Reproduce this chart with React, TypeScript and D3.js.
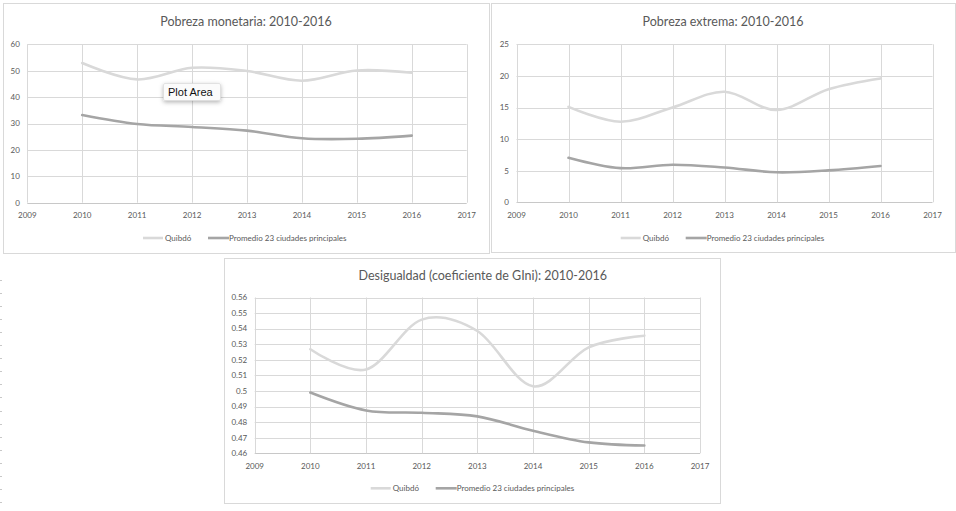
import React from "react";
import * as d3 from "d3";

const years = [2010, 2011, 2012, 2013, 2014, 2015, 2016];
const xTicks = [2009, 2010, 2011, 2012, 2013, 2014, 2015, 2016, 2017];
const seriesNames = ["Quibdó", "Promedio 23 ciudades principales"];

const monetariaQuibdo = [52.9, 46.7, 51.1, 49.9, 46.2, 50.1, 49.2];
const monetariaPromedio = [33.2, 29.8, 28.7, 27.3, 24.4, 24.2, 25.4];
const monetariaTicks = [0, 10, 20, 30, 40, 50, 60];

const extremaQuibdo = [15.1, 12.75, 15.0, 17.5, 14.6, 17.9, 19.6];
const extremaPromedio = [7.05, 5.4, 5.95, 5.5, 4.75, 5.05, 5.75];
const extremaTicks = [0, 5, 10, 15, 20, 25];

const giniQuibdo = [0.5268, 0.5138, 0.5458, 0.5385, 0.503, 0.528, 0.5355];
const giniPromedio = [0.499, 0.4875, 0.486, 0.4837, 0.4745, 0.467, 0.465];
const giniTicks = [0.46, 0.47, 0.48, 0.49, 0.5, 0.51, 0.52, 0.53, 0.54, 0.55, 0.56];
const giniTickLabels = ["0.46", "0.47", "0.48", "0.49", "0.5", "0.51", "0.52", "0.53", "0.54", "0.55", "0.56"];

const seriesColors = ["#d9d9d9", "#a5a5a5"];
const FONT = "Lato, 'Open Sans', sans-serif";
const TEXT = "#595959";
const GRID = "#d9d9d9";

type PanelProps = {
  box: { x: number; y: number; w: number; h: number };
  plot: { l: number; r: number; t: number; b: number };
  title: string;
  titleY: number;
  titleX: number;
  legendY: number;
  legendX: number;
  yTicks: number[];
  yLabels: string[];
  series: number[][];
};

function Panel({ box, plot, title, titleY, titleX, legendY, legendX, yTicks, yLabels, series }: PanelProps) {
  const x = d3.scaleLinear().domain([2009, 2017]).range([plot.l, plot.r]);
  const y = d3
    .scaleLinear()
    .domain([yTicks[0], yTicks[yTicks.length - 1]])
    .range([plot.b, plot.t]);
  const line = d3
    .line<number>()
    .x((_, i) => x(years[i]))
    .y((d) => y(d))
    .curve(d3.curveCardinal.tension(0));
  const px = (v: number) => Math.round(v) + 0.5;

  return (
    <g>
      <rect x={box.x + 0.5} y={box.y + 0.5} width={box.w} height={box.h} fill="#fff" stroke="#d9d9d9" strokeWidth={1} />
      <text x={titleX} y={titleY} textAnchor="middle" fontFamily={FONT} fontSize={12.5} fill={TEXT}>
        {title}
      </text>
      {yTicks.map((t, i) => (
        <g key={"y" + i}>
          <line x1={plot.l} x2={plot.r} y1={px(y(t))} y2={px(y(t))} stroke={i === 0 ? "#c8c8c8" : GRID} strokeWidth={1} />
          <text x={plot.l - 7.5} y={y(t)} dy="0.35em" textAnchor="end" fontFamily={FONT} fontSize={8} fill={TEXT}>
            {yLabels[i]}
          </text>
        </g>
      ))}
      {xTicks.map((t, i) => (
        <g key={"x" + i}>
          <line x1={px(x(t))} x2={px(x(t))} y1={plot.t} y2={plot.b} stroke={GRID} strokeWidth={1} />
          <text x={x(t)} y={plot.b + 15.6} textAnchor="middle" fontFamily={FONT} fontSize={8} fill={TEXT}>
            {t}
          </text>
        </g>
      ))}
      {series.map((s, i) => (
        <path key={"s" + i} d={line(s) || ""} fill="none" stroke={seriesColors[i]} strokeWidth={2.6} strokeLinecap="round" />
      ))}
      <g transform={`translate(${legendX},${legendY})`}>
        <line x1={0} x2={20} y1={0} y2={0} stroke={seriesColors[0]} strokeWidth={2.6} />
        <text x={22} y={2.6} fontFamily={FONT} fontSize={8} fill={TEXT}>
          {seriesNames[0]}
        </text>
        <line x1={65} x2={86} y1={0} y2={0} stroke={seriesColors[1]} strokeWidth={2.6} />
        <text x={86} y={2.6} fontFamily={FONT} fontSize={8} fill={TEXT}>
          {seriesNames[1]}
        </text>
      </g>
    </g>
  );
}

export default function App() {
  const marks = d3.range(280, 505, 13.05);
  return (
    <svg width={956} height={511} style={{ position: "absolute", left: 0, top: 0, background: "#fff" }}>
      <defs>
        <filter id="shadow" x="-30%" y="-50%" width="160%" height="220%">
          <feDropShadow dx={0} dy={1.5} stdDeviation={2} floodColor="#000" floodOpacity={0.3} />
        </filter>
      </defs>
      <rect x={0} y={0} width={956} height={511} fill="#fff" />
      <Panel
        box={{ x: 3, y: 3, w: 486, h: 250 }}
        plot={{ l: 27.3, r: 466.7, t: 44.3, b: 202.7 }}
        title="Pobreza monetaria: 2010-2016"
        titleX={246}
        titleY={26}
        legendX={143}
        legendY={238}
        yTicks={monetariaTicks}
        yLabels={monetariaTicks.map(String)}
        series={[monetariaQuibdo, monetariaPromedio]}
      />
      <Panel
        box={{ x: 491, y: 3, w: 464, h: 249 }}
        plot={{ l: 516.5, r: 932.5, t: 44.3, b: 202.3 }}
        title="Pobreza extrema: 2010-2016"
        titleX={723}
        titleY={26}
        legendX={620.7}
        legendY={238}
        yTicks={extremaTicks}
        yLabels={extremaTicks.map(String)}
        series={[extremaQuibdo, extremaPromedio]}
      />
      <Panel
        box={{ x: 224, y: 258, w: 496, h: 245 }}
        plot={{ l: 254.7, r: 700, t: 297.5, b: 453.3 }}
        title="Desigualdad (coeficiente de GIni): 2010-2016"
        titleX={482.7}
        titleY={280}
        legendX={370.7}
        legendY={488.3}
        yTicks={giniTicks}
        yLabels={giniTickLabels}
        series={[giniQuibdo, giniPromedio]}
      />
      {marks.map((m, i) => (
        <line key={"m" + i} x1={0} x2={2} y1={Math.round(m) + 0.5} y2={Math.round(m) + 0.5} stroke="#c8c8c8" strokeWidth={1} />
      ))}
      <g filter="url(#shadow)">
        <rect x={163.5} y={83.5} width={57} height={17} rx={1.5} fill="#fbfbfb" stroke="#d4d4d4" strokeWidth={0.6} />
      </g>
      <text x={168} y={95.8} fontFamily="'Liberation Sans', Arial, sans-serif" fontSize={11} fill="#111">
        Plot Area
      </text>
    </svg>
  );
}
